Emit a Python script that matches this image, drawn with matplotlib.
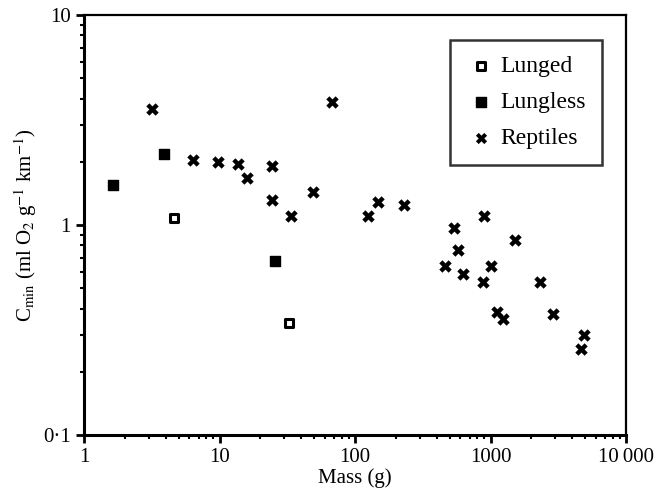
import matplotlib
matplotlib.use("Agg")
import matplotlib.pyplot as plt
from matplotlib.ticker import FixedLocator, FixedFormatter, LogLocator, NullFormatter

# Data (mass in g, Cmin in ml O2 g^-1 km^-1)
lunged_mass = [4.6, 32.6]
lunged_cmin = [1.08, 0.343]

lungless_mass = [1.64, 3.9, 25.7]
lungless_cmin = [1.55, 2.17, 0.675]

reptile_mass = [3.18, 6.4, 9.75, 13.7, 16.0, 24.4, 24.4, 33.7, 49, 68,
                125, 148, 230, 538, 895, 1517, 576, 462, 627, 1008,
                880, 1117, 1237, 2318, 2893, 4900, 4656]
reptile_cmin = [3.58, 2.05, 1.99, 1.95, 1.67, 1.9, 1.31, 1.10, 1.43, 3.87,
                1.10, 1.29, 1.245, 0.97, 1.10, 0.85, 0.76, 0.64, 0.586, 0.64,
                0.537, 0.387, 0.359, 0.537, 0.379, 0.301, 0.258]

x_ticks = [1, 10, 100, 1000, 10000]
x_labels = ["1", "10", "100", "1000", "10\u2009000"]
y_ticks = [0.1, 1, 10]
y_labels = ["0\u00b71", "1", "10"]

plt.rcParams['font.family'] = ['Liberation Serif', 'DejaVu Serif']
plt.rcParams['mathtext.fontset'] = 'stix'

fig = plt.figure(figsize=(6.58, 4.99), dpi=100)
ax = fig.add_axes([0.1277, 0.128, 0.8237, 0.842])

ax.scatter(lunged_mass, lunged_cmin, marker='s', s=40, facecolors='white',
           edgecolors='black', linewidths=2.2, label='Lunged', zorder=3)
ax.scatter(lungless_mass, lungless_cmin, marker='s', s=60, color='black',
           label='Lungless', zorder=3)
ax.scatter(reptile_mass, reptile_cmin, marker='X', s=80, color='black',
           linewidths=0, label='Reptiles', zorder=3)

ax.set_xscale('log')
ax.set_yscale('log')
ax.set_xlim(1, 10000)
ax.set_ylim(0.1, 10)

ax.xaxis.set_major_locator(FixedLocator(x_ticks))
ax.xaxis.set_major_formatter(FixedFormatter(x_labels))
ax.yaxis.set_major_locator(FixedLocator(y_ticks))
ax.yaxis.set_major_formatter(FixedFormatter(y_labels))
ax.xaxis.set_minor_locator(LogLocator(base=10, subs=range(2, 10)))
ax.yaxis.set_minor_locator(LogLocator(base=10, subs=range(2, 10)))
ax.xaxis.set_minor_formatter(NullFormatter())
ax.yaxis.set_minor_formatter(NullFormatter())

ax.tick_params(which='major', direction='out', length=6, width=2, labelsize=15)
ax.tick_params(which='minor', direction='out', length=3, width=1.5)

for side in ['left', 'bottom']:
    ax.spines[side].set_linewidth(2.2)
for side in ['top', 'right']:
    ax.spines[side].set_linewidth(1.6)

ax.set_xlabel('Mass (g)', fontsize=15, labelpad=1)
ax.set_ylabel(r'C$_{\rm min}$ (ml O$_2$ g$^{-1}$ km$^{-1}$)', fontsize=15, labelpad=3)

leg = ax.legend(loc='upper right', bbox_to_anchor=(0.955, 0.94), frameon=True,
                fancybox=False, edgecolor='black', fontsize=17,
                handletextpad=0.2, borderpad=0.65, labelspacing=0.62,
                handlelength=1.3, borderaxespad=0, markerscale=0.9)
leg.get_frame().set_linewidth(1.8)

fig.savefig('out.png', dpi=100)
